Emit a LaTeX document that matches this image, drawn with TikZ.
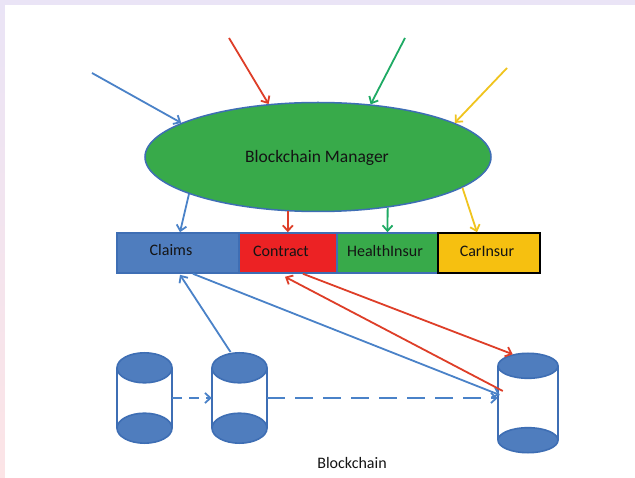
\documentclass[tikz,border=0pt]{standalone}
\usepackage{fontspec}
\setmainfont{Carlito}
\usetikzlibrary{arrows.meta,shapes.geometric,calc}

\definecolor{frameTop}{RGB}{234,228,246}
\definecolor{frameBot}{RGB}{252,228,230}
\definecolor{mgrGreen}{RGB}{56,170,74}
\definecolor{edgeBlue}{RGB}{62,110,180}
\definecolor{boxBlue}{RGB}{79,125,190}
\definecolor{boxRed}{RGB}{236,34,36}
\definecolor{boxGreen}{RGB}{56,170,74}
\definecolor{boxYellow}{RGB}{246,192,16}
\definecolor{arrBlue}{RGB}{74,130,200}
\definecolor{arrRed}{RGB}{222,62,40}
\definecolor{arrGreen}{RGB}{30,170,100}
\definecolor{arrYellow}{RGB}{240,196,30}
\definecolor{ink}{RGB}{20,20,20}

\tikzset{
  conn/.style={line width=1.8pt, -{Straight Barb[length=5.5pt,width=10pt,line width=1.8pt]}},
  slot/.style={rectangle, draw=edgeBlue, line width=1.6pt, minimum height=40pt,
    inner sep=0pt, font=\fontsize{16}{18}\selectfont, text=ink},
  drumtop/.style={ellipse, fill=boxBlue, draw=edgeBlue, line width=1.6pt, inner sep=0pt},
  drumbody/.style={rectangle, inner sep=0pt},
  label/.style={font=\fontsize{16}{18}\selectfont, text=ink},
}

% a drum: name, centre x, top y, bottom y, half width, half height of the ends
\newcommand\drawdrum[6]{%
  \node[drumbody, minimum width=#5*2pt, minimum height=(#4-#3)*1pt] (#1) at (#2,{(#3+#4)/2}) {};
  \draw[edgeBlue, line width=1.6pt] (#1.north west) -- (#1.south west)
                                    (#1.north east) -- (#1.south east);
  \node[drumtop, minimum width=#5*2pt, minimum height=#6*2pt] (#1b) at (#1.south) {};
  \node[drumtop, minimum width=#5*2pt, minimum height=#6*2pt] (#1t) at (#1.north) {};
}

\begin{document}
\begin{tikzpicture}[x=1pt,y=-1pt]
  % page with its light frame
  \shade[top color=frameTop, bottom color=frameBot] (0,0) rectangle (635,478);
  \fill[white] (5,5) rectangle (635,478);
  \useasboundingbox (0,0) rectangle (635,478);

  % manager
  \node[ellipse, fill=mgrGreen, draw=edgeBlue, line width=1.5pt,
        minimum width=346pt, minimum height=109pt, inner sep=0pt] (mgr) at (318,157) {};
  \node[font=\fontsize{17.5}{20}\selectfont, text=ink] (mgrlabel) at (317,158) {Blockchain Manager};

  % contract slots
  \node[slot, fill=boxBlue, minimum width=122pt] (claims) at (178,253) {};
  \node[slot, fill=boxRed, minimum width=98pt] (contract) at (288,253) {};
  \node[slot, fill=boxGreen, minimum width=101pt] (health) at (387.5,253) {};
  \node[slot, fill=boxYellow, draw=black, minimum width=102pt] (car) at (489,253) {};
  \node[label] at (171,250) {Claims};
  \node[label] at (281,251) {Contract};
  \node[label] at (385,251) {HealthInsur};
  \node[label] at (487,251) {CarInsur};

  % incoming requests
  \coordinate (inBlue) at (92,73);
  \coordinate (inRed) at (229,38);
  \coordinate (inGreen) at (405,38);
  \coordinate (inYellow) at (507,68);
  \draw[conn, arrBlue] (inBlue) -- (mgr.166);
  \draw[conn, arrRed] (inRed) -- (mgr.133);
  \draw[conn, arrGreen] (inGreen) -- (mgr.45);
  \draw[conn, arrYellow] (inYellow) -- (mgr.14);

  % manager to slots
  \draw[conn, arrBlue] (mgr.196) -- ([xshift=2pt]claims.north);
  \draw[conn, arrRed] (mgr.241) -- (mgr.241 |- contract.north);
  \draw[conn, arrGreen] (mgr.-36) -- (health.north);
  \draw[conn, arrYellow] (mgr.-12.6) -- ([xshift=-12pt]car.north);

  % the chain of drums
  \drawdrum{d1}{144.5}{368}{428}{27.5}{15}
  \drawdrum{d2}{239.5}{368}{428}{27.5}{15}
  \drawdrum{d3}{528}{366}{440}{30}{12.5}
  \node[label] (chainlabel) at (352,463) {Blockchain};

  \draw[conn, arrBlue, dash pattern=on 10pt off 7pt] (d1.east) -- (d2.west);
  \draw[conn, arrBlue, dash pattern=on 18pt off 10pt] (d2.east) -- (d2.east -| d3.west);

  % links between the drums and the slots
  \draw[conn, arrBlue] ([xshift=-9pt]d2t.north) -- ([xshift=2pt,yshift=-1pt]claims.south);
  \draw[conn, arrBlue] ([xshift=15pt]claims.south) -- ([xshift=2pt,yshift=8pt]d3.west);
  \draw[conn, arrRed] ([xshift=15pt]contract.south) -- (d3t.143);
  \draw[conn, arrRed] ([xshift=5pt,yshift=12pt]d3.west) -- ([xshift=-3pt,yshift=-3pt]contract.south);
\end{tikzpicture}
\end{document}
